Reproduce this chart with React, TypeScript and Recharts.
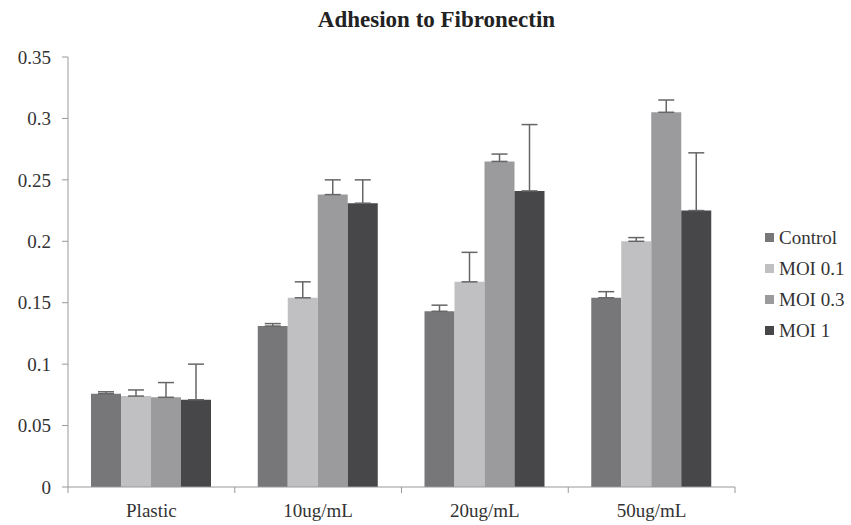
import { BarChart, Bar, XAxis, YAxis, ErrorBar } from 'recharts'

const CATEGORIES = ['Plastic', '10ug/mL', '20ug/mL', '50ug/mL']
const SERIES = [
  { key: 'control', label: 'Control', color: '#77777a' },
  { key: 'moi01', label: 'MOI 0.1', color: '#c0c0c2' },
  { key: 'moi03', label: 'MOI 0.3', color: '#9b9b9e' },
  { key: 'moi1', label: 'MOI 1', color: '#47474a' },
]
const control = [0.076, 0.131, 0.143, 0.154]
const controlErr = [0.0015, 0.002, 0.005, 0.005]
const moi01 = [0.074, 0.154, 0.167, 0.2]
const moi01Err = [0.005, 0.013, 0.024, 0.003]
const moi03 = [0.073, 0.238, 0.265, 0.305]
const moi03Err = [0.012, 0.012, 0.006, 0.01]
const moi1 = [0.071, 0.231, 0.241, 0.225]
const moi1Err = [0.029, 0.019, 0.054, 0.047]
const Y_TICKS = [0, 0.05, 0.1, 0.15, 0.2, 0.25, 0.3, 0.35]

const FONT = 'Liberation Serif, DejaVu Serif, serif'

const data = CATEGORIES.map((c, i) => ({
  name: c,
  control: control[i], control_e: [0, controlErr[i]],
  moi01: moi01[i], moi01_e: [0, moi01Err[i]],
  moi03: moi03[i], moi03_e: [0, moi03Err[i]],
  moi1: moi1[i], moi1_e: [0, moi1Err[i]],
}))

const XTick = (props: any) => {
  const { x, y, payload, index } = props
  const half = payload.offset || (735 - 68) / 8
  return (
    <g>
      <line x1={x - half} x2={x - half} y1={y} y2={y + 6} stroke="#999" />
      {index === CATEGORIES.length - 1 && <line x1={x + half} x2={x + half} y1={y} y2={y + 6} stroke="#999" />}
      <text x={x} y={y + 30} textAnchor="middle" fill="#333" fontSize={19} style={{ fontFamily: FONT }}>{payload.value}</text>
    </g>
  )
}

export default function App() {
  return (
    <div style={{ position: 'absolute', left: 0, top: 0, width: 851, height: 525, background: '#fff', fontFamily: FONT }}>
      <div style={{ position: 'absolute', left: 0, top: 7, width: 851, textAlign: 'center', paddingLeft: 22, boxSizing: 'border-box', fontWeight: 'bold', fontSize: 23, color: '#222' }}>
        Adhesion to Fibronectin
      </div>
      <div style={{ position: 'absolute', left: 765, top: 222, fontSize: 19, color: '#333' }}>
        {SERIES.map(s => (
          <div key={s.key} style={{ display: 'flex', alignItems: 'center', height: 31 }}>
            <span style={{ width: 9, height: 9, background: s.color, marginRight: 5, display: 'inline-block' }} />
            {s.label}
          </div>
        ))}
      </div>
      <BarChart width={851} height={525} data={data} margin={{ top: 57, right: 116, left: 0, bottom: 0 }} barCategoryGap={23} barGap={0}>
        <XAxis dataKey="name" height={38} stroke="#999" tickLine={false} tickSize={0} tickMargin={0} tick={<XTick />} interval={0} />
        <YAxis width={68} domain={[0, 0.35]} ticks={Y_TICKS} stroke="#999" tickSize={6} tickMargin={11}
          tick={{ fill: '#333', fontSize: 19, style: { fontFamily: FONT } }} />
        {SERIES.map(s => (
          <Bar key={s.key} dataKey={s.key} name={s.label} fill={s.color} isAnimationActive={false}>
            <ErrorBar dataKey={`${s.key}_e`} width={8} stroke="#666" strokeWidth={1.5} direction="y" />
          </Bar>
        ))}
      </BarChart>
    </div>
  )
}
